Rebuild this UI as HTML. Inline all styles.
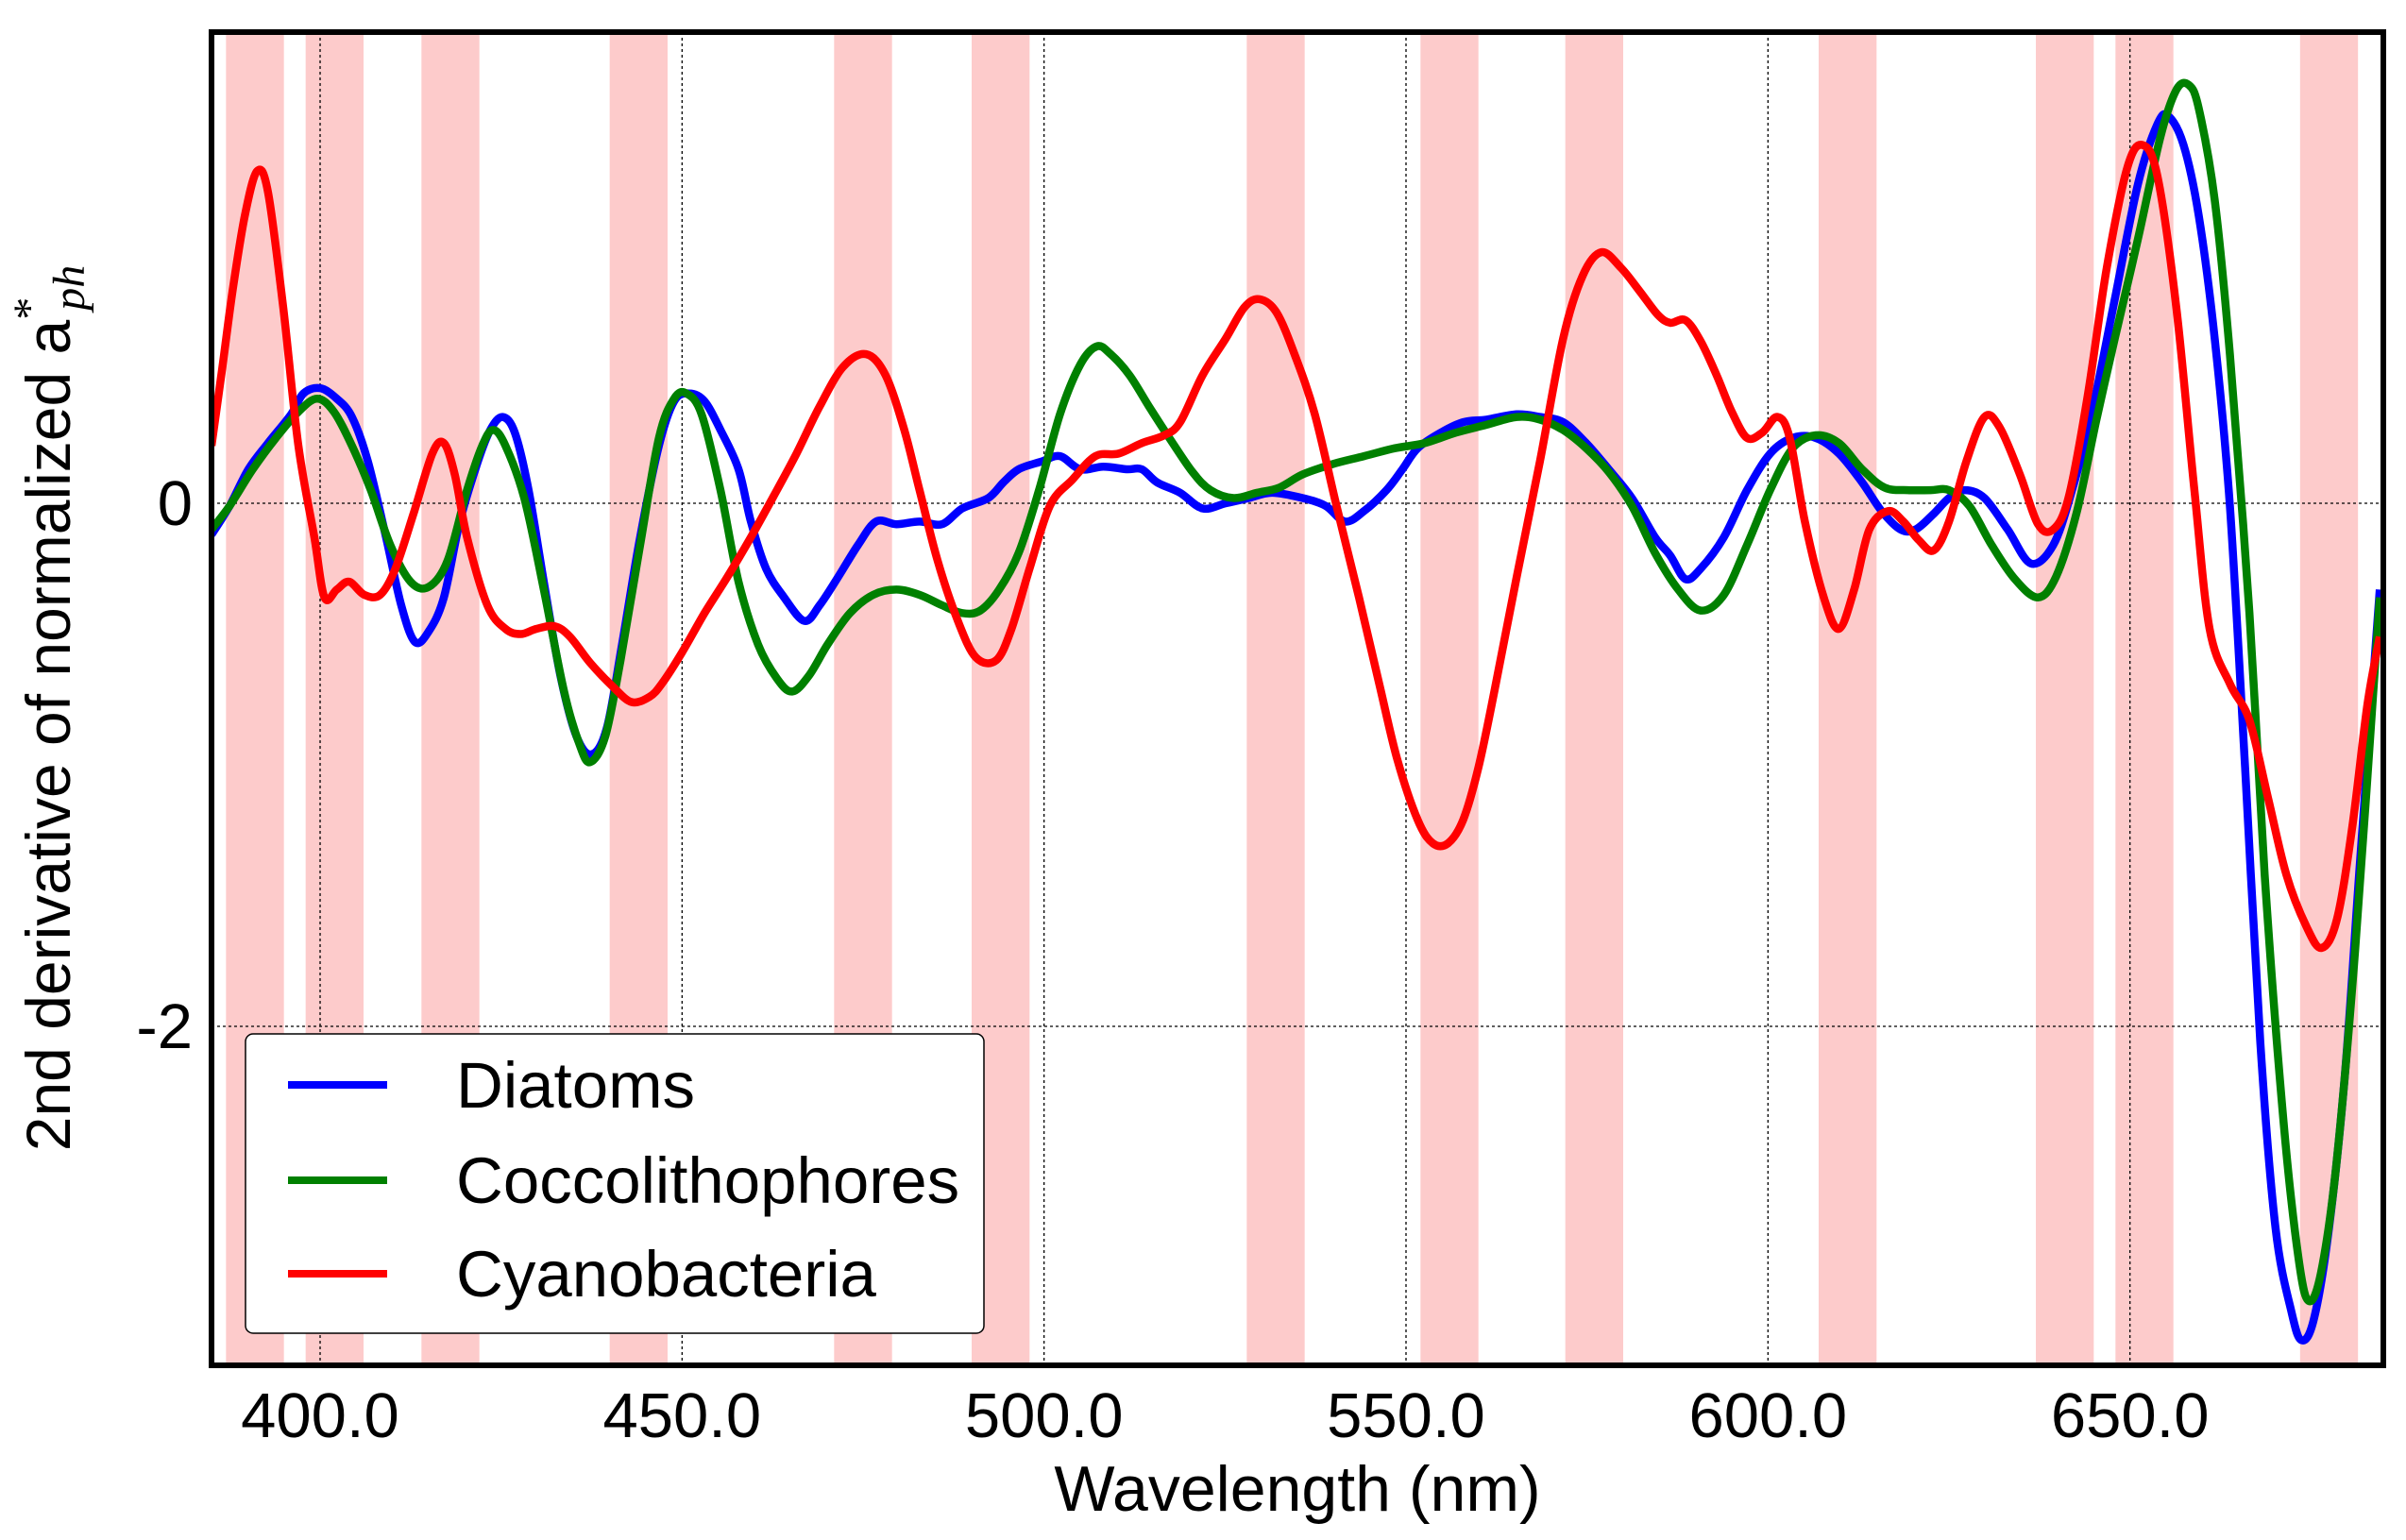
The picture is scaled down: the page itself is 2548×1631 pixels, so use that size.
<!DOCTYPE html>
<html><head><meta charset="utf-8"><style>
html,body{margin:0;padding:0;background:#fff;}
svg{display:block;font-family:"Liberation Sans",sans-serif;}
</style></head><body>
<svg id="chart" width="2548" height="1631" viewBox="0 0 2548 1631" xmlns="http://www.w3.org/2000/svg">
<defs><clipPath id="plotclip"><rect x="224" y="34" width="2300" height="1412"/></clipPath></defs>
<g id="bands" clip-path="url(#plotclip)"></g>
<g id="grid"></g>
<g id="series" clip-path="url(#plotclip)"></g>
<rect x="224" y="34" width="2300" height="1412" fill="none" stroke="#000" stroke-width="6"/>
<g id="xticks" font-size="67" text-anchor="middle"></g>
<g id="yticks" font-size="67" text-anchor="end"></g>
<text x="1374" y="1600" font-size="68" text-anchor="middle">Wavelength (nm)</text>
<text transform="translate(74,750) rotate(-90)" font-size="66" text-anchor="middle">2nd derivative of normalized a<tspan font-family="Liberation Serif,serif" font-size="48" dy="-27">*</tspan><tspan font-family="Liberation Serif,serif" font-style="italic" font-size="48" dx="-14" dy="42">ph</tspan></text>
<g>
<rect x="260" y="1095" width="782" height="317" rx="8" fill="#fff" stroke="#000" stroke-width="1.5"/>
<line x1="305" y1="1149" x2="410" y2="1149" stroke="#0000ff" stroke-width="8"/>
<text x="483" y="1173" font-size="69">Diatoms</text>
<line x1="305" y1="1250" x2="410" y2="1250" stroke="#008000" stroke-width="8"/>
<text x="483" y="1274" font-size="69">Coccolithophores</text>
<line x1="305" y1="1349" x2="410" y2="1349" stroke="#ff0000" stroke-width="8"/>
<text x="483" y="1373" font-size="69">Cyanobacteria</text>
</g>
</svg>
<script>
const xTicks=[400,450,500,550,600,650];
const xTickLabels=["400.0","450.0","500.0","550.0","600.0","650.0"];
const yTicks=[0,-2];
const yTickLabels=["0","-2"];
const bandStarts=[387,398,414,440,471,490,528,552,572,607,637,648,673.5];
const bandEnds=[395,406,422,448,479,498,536,560,580,615,645,656,681.5];
const diatomsWl=[385,387.5,390.1,392.8,396,397.7,400,402.3,404.4,406.6,409.1,411.2,413.1,415,417.1,419.3,421.8,423.5,425.2,426.9,428.8,430.9,433.2,435.4,437.5,439.6,441.7,444.2,446.8,448.9,451,453.1,455.3,457.8,459.5,461.6,464.1,466.9,469,471.6,474.3,476.8,479.6,482.8,485.9,488.7,492.3,494.4,496.5,499.7,502.2,505,508.2,511.4,513.5,515.6,518.8,521.9,525.1,528.3,531.5,535.7,538.9,541.6,544.2,547.3,549.5,551.6,554.8,557.9,561.1,565.3,568.5,571.7,574.9,578,581.2,584.4,586.5,588.6,590.7,593.9,597.1,600.3,603.4,606.6,609.8,613,615.7,618.3,620.4,622.9,625,627.2,629.9,633.1,636.3,639.4,642,644.7,647.9,651.1,653.8,655.3,657.4,659.5,661.7,663.8,665.9,668,670.1,672.3,673.7,675.4,677.5,679.7,681.8,684.5];
const diatomsVal=[-0.12,-0.01,0.13,0.23,0.34,0.42,0.44,0.40,0.33,0.16,-0.13,-0.39,-0.53,-0.49,-0.36,-0.07,0.16,0.28,0.33,0.27,0.05,-0.30,-0.66,-0.89,-0.96,-0.86,-0.54,-0.13,0.22,0.39,0.42,0.39,0.28,0.13,-0.07,-0.25,-0.36,-0.45,-0.39,-0.28,-0.16,-0.07,-0.08,-0.07,-0.08,-0.02,0.02,0.08,0.13,0.16,0.18,0.13,0.14,0.13,0.13,0.08,0.04,-0.02,0.00,0.02,0.04,0.02,-0.01,-0.07,-0.03,0.05,0.13,0.21,0.27,0.31,0.32,0.34,0.33,0.31,0.23,0.13,0.02,-0.13,-0.20,-0.29,-0.25,-0.13,0.05,0.19,0.25,0.25,0.19,0.08,-0.03,-0.10,-0.10,-0.04,0.02,0.05,0.02,-0.10,-0.23,-0.16,0.05,0.34,0.78,1.22,1.45,1.48,1.37,1.10,0.63,-0.01,-1.01,-2.06,-2.77,-3.09,-3.20,-3.12,-2.77,-2.18,-1.36,-0.33];
const coccoWl=[385,387.5,390.7,393.9,397,399.6,401.9,404.4,407,409.7,412.5,415,417.6,420.3,422.4,423.9,425.6,428.2,430.9,433.7,435.8,437.3,439.4,441.5,444.2,446.8,448.9,450.6,452.7,455.3,457.8,460.5,463.1,465.2,467.5,470.1,473.2,476.4,479.6,482.8,485.9,488.7,491.2,493.8,496.5,499.3,502.2,505,507.3,509.2,511.8,514.5,517.3,520.5,523,526.2,529.4,532.5,535.7,539.9,544.2,548.4,552.6,556.9,561.1,565.3,568.5,571.7,574.9,578,581.2,584.4,587.6,590.7,593.9,597.1,600.3,603.4,606.6,609.8,613,616.1,619.3,622.5,625,627.8,630.9,634.1,637.3,639.8,642.6,645.3,647.9,651.1,654.2,656.4,658.1,659.5,661.7,663.8,666.5,668.6,671.2,673.3,674.7,676.4,678.5,681.1,684.5];
const coccoVal=[-0.10,-0.01,0.13,0.25,0.35,0.40,0.35,0.22,0.05,-0.16,-0.30,-0.32,-0.22,0.05,0.22,0.28,0.22,0.02,-0.33,-0.72,-0.92,-0.99,-0.89,-0.60,-0.16,0.25,0.40,0.42,0.34,0.05,-0.30,-0.54,-0.67,-0.72,-0.66,-0.54,-0.42,-0.35,-0.33,-0.35,-0.39,-0.42,-0.41,-0.33,-0.19,0.05,0.34,0.53,0.60,0.57,0.49,0.37,0.25,0.12,0.05,0.02,0.04,0.06,0.11,0.15,0.18,0.21,0.23,0.27,0.30,0.33,0.32,0.28,0.21,0.12,-0.01,-0.19,-0.33,-0.41,-0.35,-0.16,0.05,0.21,0.26,0.23,0.13,0.06,0.05,0.05,0.05,-0.01,-0.16,-0.29,-0.36,-0.28,-0.04,0.31,0.63,1.01,1.40,1.58,1.60,1.51,1.16,0.57,-0.42,-1.42,-2.36,-2.89,-3.05,-2.94,-2.53,-1.71,-0.36];
const cyanoWl=[385,386.5,387.9,389.6,391.3,392.8,394.9,397,399.2,400.6,402.3,404,406.1,408.3,410.4,412.9,415.5,417.1,418.6,420.3,423.1,425.6,427.7,429.9,432.4,434.5,437.3,440.4,443,445.5,447.2,450,453.1,456.3,459.5,462.7,465.8,469,472.2,475.4,478.1,480.7,482.8,485.3,488.1,490.6,493.4,495.5,498,500.8,503.9,507.1,510.3,513.5,516.6,518.8,521.9,525.1,527.7,529.8,532.1,534.6,537.4,540.4,543.5,546.3,548.8,551.6,553.7,555.8,557.9,560,562.2,565.3,568.5,571.7,574.4,577,579.7,582.3,584.8,586.5,588.6,590.7,592.9,595,597.1,599.2,601.3,603,605.1,607.7,609.8,611.9,614,616.6,618.7,620.8,622.9,625,627.4,629.9,632,634.8,637.3,639.4,641.5,644.1,646.8,649.6,651.7,653.8,656.4,658.9,661,663.8,666.5,669.1,671.6,674.4,676.5,678.6,680.7,682.8,684.5];
const cyanoVal=[0.22,0.52,0.81,1.10,1.27,1.19,0.75,0.22,-0.13,-0.36,-0.33,-0.30,-0.35,-0.35,-0.25,-0.04,0.19,0.23,0.11,-0.13,-0.39,-0.48,-0.50,-0.48,-0.47,-0.51,-0.61,-0.70,-0.76,-0.74,-0.69,-0.57,-0.42,-0.28,-0.13,0.03,0.19,0.37,0.52,0.57,0.49,0.28,0.05,-0.22,-0.45,-0.59,-0.60,-0.48,-0.25,-0.01,0.09,0.18,0.19,0.23,0.26,0.31,0.49,0.63,0.75,0.78,0.73,0.57,0.34,-0.01,-0.36,-0.69,-0.98,-1.21,-1.30,-1.30,-1.21,-1.01,-0.72,-0.28,0.16,0.63,0.87,0.96,0.90,0.81,0.72,0.69,0.70,0.62,0.49,0.35,0.25,0.27,0.33,0.25,-0.07,-0.36,-0.48,-0.33,-0.10,-0.03,-0.07,-0.14,-0.18,-0.07,0.16,0.33,0.29,0.11,-0.08,-0.10,0.02,0.40,0.90,1.28,1.37,1.25,0.75,0.05,-0.48,-0.69,-0.83,-1.13,-1.42,-1.62,-1.70,-1.59,-1.24,-0.77,-0.51];

const X0=224,X1=2524,Y0=34,Y1=1446;
const xMin=385,xMax=685,yZeroPx=533,yUnitPx=277;
function xScale(w){return X0+(w-xMin)/(xMax-xMin)*(X1-X0);}
function yScale(v){return yZeroPx-v*yUnitPx;}
const NS="http://www.w3.org/2000/svg";
function mk(tag,attrs,parent){const e=document.createElementNS(NS,tag);for(const k in attrs)e.setAttribute(k,attrs[k]);parent.appendChild(e);return e;}

const bandsG=document.getElementById('bands');
bandStarts.forEach((s,i)=>{
  const r=mk('rect',{x:xScale(s),y:Y0,width:xScale(bandEnds[i])-xScale(s),height:Y1-Y0,fill:'#fdcbcb'},bandsG);
  
  
});
const gridG=document.getElementById('grid');
xTicks.forEach(t=>{
  const l=mk('line',{x1:xScale(t),x2:xScale(t),y1:Y0,y2:Y1,stroke:'#000','stroke-width':1.3,'stroke-dasharray':'3,3'},gridG);
  
  
});
yTicks.forEach(t=>{
  const l=mk('line',{x1:X0,x2:X1,y1:yScale(t),y2:yScale(t),stroke:'#000','stroke-width':1.3,'stroke-dasharray':'3,3'},gridG);
  
  
});
const xtG=document.getElementById('xticks');
xTicks.forEach((t,i)=>{
  const tx=mk('text',{x:xScale(t),y:1522},xtG);tx.textContent=xTickLabels[i];
  
  
});
const ytG=document.getElementById('yticks');
yTicks.forEach((t,i)=>{
  const tx=mk('text',{x:204,y:yScale(t)+23},ytG);tx.textContent=yTickLabels[i];
  
  
});
function pathFor(ws,vs){
  const p=ws.map((w,i)=>[xScale(w),yScale(vs[i])]);
  let d='M'+p[0][0]+','+p[0][1];
  for(let i=0;i<p.length-1;i++){
    const a=p[Math.max(i-1,0)],b=p[i],c=p[i+1],e=p[Math.min(i+2,p.length-1)];
    const c1=[b[0]+(c[0]-a[0])/6,b[1]+(c[1]-a[1])/6],c2=[c[0]-(e[0]-b[0])/6,c[1]-(e[1]-b[1])/6];
    d+=' C'+c1[0].toFixed(1)+','+c1[1].toFixed(1)+' '+c2[0].toFixed(1)+','+c2[1].toFixed(1)+' '+c[0].toFixed(1)+','+c[1].toFixed(1);
  }
  return d;
}
const sG=document.getElementById('series');
const p1=mk('path',{d:pathFor(diatomsWl,diatomsVal),fill:'none',stroke:'#0000ff','stroke-width':8.5,'stroke-linejoin':'round'},sG);


const p2=mk('path',{d:pathFor(coccoWl,coccoVal),fill:'none',stroke:'#008000','stroke-width':8.5,'stroke-linejoin':'round'},sG);


const p3=mk('path',{d:pathFor(cyanoWl,cyanoVal),fill:'none',stroke:'#ff0000','stroke-width':8.5,'stroke-linejoin':'round'},sG);


</script>
</body></html>
